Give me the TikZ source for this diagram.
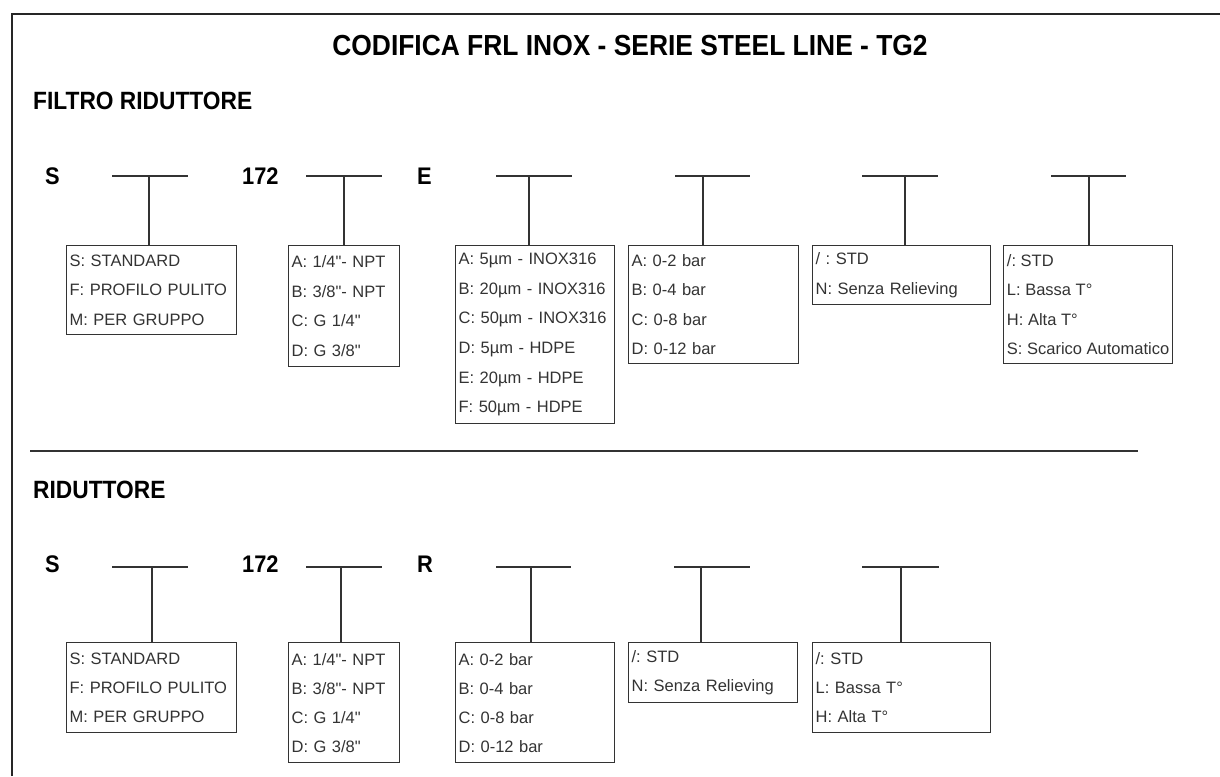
\documentclass[tikz,border=0pt]{standalone}
\usepackage{fontspec}
\setmainfont{Liberation Sans}[Ligatures=TeXOff]
\newfontfamily\headfont[FakeStretch=0.91]{Liberation Sans}
\frenchspacing
\begin{document}
\frenchspacing
\begin{tikzpicture}[x=1pt,y=-1pt,
  hd/.style={font=\headfont\bfseries\fontsize{#1}{#1}\selectfont, inner sep=0pt, text=black},
  codebox/.style n args={3}{draw=black!80, line width=1.2pt, anchor=north west, align=left,
     inner xsep=3pt, inner ysep=2pt, text width=#1, minimum height=#2,
     font=\fontsize{16.5}{#3}\selectfont, text=black!80},
  wire/.style={draw=black!80, line width=1.2pt},
  framel/.style={draw=black!85, line width=2pt}]
\useasboundingbox (0,0) rectangle (1220,776);

% frame
\coordinate (fa) at (12,776);
\coordinate (fb) at (12,14);
\coordinate (fc) at (1220,14);
\draw[framel] (fa) -- (fb) -- (fc);

% headings
\node[hd=29] (title) at (630,46) {CODIFICA FRL INOX - SERIE STEEL LINE - TG2};
\node[hd=25, anchor=west] (h1) at (33,101) {FILTRO RIDUTTORE};
\node[hd=25, anchor=west] (h2) at (33,490) {RIDUTTORE};

% separator
\coordinate (sa) at (30,451);
\coordinate (sb) at (1138,451);
\draw[wire, line width=1.5pt] (sa) -- (sb);

% ---------- upper code ----------
\node[hd=24, anchor=west] (uS) at (45,176) {S};
\node[hd=24, anchor=west] (u172) at (242,176) {172};
\node[hd=24, anchor=west] (uE) at (417,176) {E};

\node[codebox={164pt}{89pt}{29.6pt}] (b1) at (66,245)
  {S: STANDARD\\F: PROFILO PULITO\\M: PER GRUPPO};
\node[codebox={105pt}{121pt}{29.6pt}] (b2) at (288,245)
  {A: 1/4"- NPT\\B: 3/8"- NPT\\C: G 1/4"\\D: G 3/8"};
\node[codebox={153pt}{178pt}{29.6pt}] (b3) at (455,245)
  {A: 5µm - INOX316\\B: 20µm - INOX316\\C: 50µm - INOX316\\D: 5µm - HDPE\\E: 20µm - HDPE\\F: 50µm - HDPE};
\node[codebox={164pt}{118pt}{29.6pt}] (b4) at (628,245)
  {A: 0-2 bar\\B: 0-4 bar\\C: 0-8 bar\\D: 0-12 bar};
\node[codebox={172pt}{59pt}{29.6pt}] (b5) at (812,245)
  {/ : STD\\N: Senza Relieving};
\node[codebox={164pt}{118pt}{29.6pt}, text width={}, minimum width=169pt, inner xsep=1pt] (b6) at (1003,245)
  {/: STD\\L: Bassa T°\\H: Alta T°\\S: Scarico Automatico};

\foreach \n/\xa/\xb/\xv in {1/112/188/149, 2/306/382/344, 3/496/572/529,
                            4/675/750/703, 5/862/938/905, 6/1051/1126/1089}{
  \coordinate (ud\n a) at (\xa,176);
  \coordinate (ud\n b) at (\xb,176);
  \coordinate (uv\n) at (\xv,176);
  \draw[wire] (ud\n a) -- (ud\n b);
  \draw[wire] (uv\n) -- (uv\n |- b\n.north);
}

% ---------- lower code ----------
\node[hd=24, anchor=west] (lS) at (45,564) {S};
\node[hd=24, anchor=west] (l172) at (242,564) {172};
\node[hd=24, anchor=west] (lR) at (417,564) {R};

\node[codebox={164pt}{90pt}{29pt}] (c1) at (66,642)
  {S: STANDARD\\F: PROFILO PULITO\\M: PER GRUPPO};
\node[codebox={105pt}{120pt}{29pt}] (c2) at (288,642)
  {A: 1/4"- NPT\\B: 3/8"- NPT\\C: G 1/4"\\D: G 3/8"};
\node[codebox={153pt}{120pt}{29pt}] (c3) at (455,642)
  {A: 0-2 bar\\B: 0-4 bar\\C: 0-8 bar\\D: 0-12 bar};
\node[codebox={163pt}{60pt}{29pt}] (c4) at (628,642)
  {/: STD\\N: Senza Relieving};
\node[codebox={172pt}{90pt}{29pt}] (c5) at (812,642)
  {/: STD\\L: Bassa T°\\H: Alta T°};

\foreach \n/\xa/\xb/\xv in {1/112/188/152, 2/306/382/341, 3/496/571/531,
                            4/674/750/701, 5/862/939/901}{
  \coordinate (ld\n a) at (\xa,567);
  \coordinate (ld\n b) at (\xb,567);
  \coordinate (lv\n) at (\xv,567);
  \draw[wire] (ld\n a) -- (ld\n b);
  \draw[wire] (lv\n) -- (lv\n |- c\n.north);
}
\end{tikzpicture}
\end{document}
